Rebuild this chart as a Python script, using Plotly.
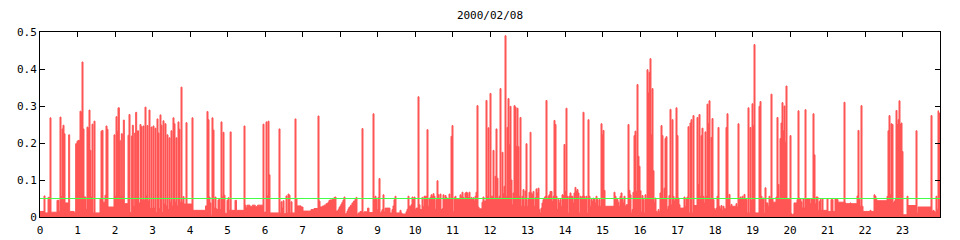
import plotly.graph_objects as go

title_text = "2000/02/08"
threshold = 0.05
day_end = 24

# step data: start hour of each step and its value
hours_00_06 = [0.000, 0.107, 0.133, 0.214, 0.267, 0.293, 0.453, 0.507, 0.533, 0.560, 0.587, 0.613, 0.640, 0.667,
               0.764, 0.791, 0.907, 0.951, 0.987, 1.013, 1.067, 1.093, 1.120, 1.147, 1.173, 1.227, 1.253, 1.280,
               1.307, 1.333, 1.360, 1.387, 1.413, 1.440, 1.467, 1.600, 1.627, 1.653, 1.680, 1.733, 1.760, 1.787,
               1.813, 1.973, 2.000, 2.027, 2.053, 2.080, 2.116, 2.142, 2.169, 2.196, 2.222, 2.249, 2.347, 2.373,
               2.400, 2.436, 2.462, 2.489, 2.524, 2.551, 2.578, 2.600, 2.627, 2.667, 2.693, 2.720, 2.746, 2.773,
               2.800, 2.827, 2.853, 2.880, 2.907, 2.933, 2.960, 2.987, 3.013, 3.040, 3.067, 3.093, 3.120, 3.147,
               3.173, 3.200, 3.226, 3.253, 3.280, 3.307, 3.333, 3.360, 3.387, 3.413, 3.440, 3.467, 3.493, 3.520,
               3.546, 3.573, 3.600, 3.626, 3.653, 3.680, 3.706, 3.733, 3.760, 3.787, 3.813, 3.840, 3.893, 3.920,
               4.053, 4.080, 4.413, 4.453, 4.480, 4.507, 4.533, 4.560, 4.586, 4.613, 4.640, 4.667, 4.693, 4.720,
               4.747, 4.773, 4.800, 4.826, 4.853, 4.880, 4.907, 4.933, 4.987, 5.013, 5.040, 5.070, 5.097, 5.200,
               5.240, 5.440, 5.467, 5.493, 5.520, 5.600, 5.660, 5.740, 5.800, 5.947, 5.973]
values_00_06 = [0.015, 0.057, 0.011, 0.053, 0.268, 0.013, 0.045, 0.015, 0.270, 0.055, 0.238, 0.248, 0.225, 0.038,
                0.222, 0.015, 0.013, 0.198, 0.205, 0.207, 0.286, 0.283, 0.419, 0.238, 0.054, 0.020, 0.243, 0.240,
                0.289, 0.180, 0.054, 0.251, 0.011, 0.259, 0.011, 0.049, 0.232, 0.234, 0.040, 0.059, 0.246, 0.237,
                0.027, 0.222, 0.056, 0.271, 0.232, 0.295, 0.207, 0.056, 0.225, 0.056, 0.262, 0.036, 0.221, 0.277,
                0.012, 0.219, 0.248, 0.030, 0.227, 0.283, 0.050, 0.233, 0.038, 0.250, 0.244, 0.045, 0.246, 0.045,
                0.297, 0.057, 0.247, 0.043, 0.289, 0.023, 0.243, 0.023, 0.246, 0.024, 0.240, 0.012, 0.265, 0.227,
                0.022, 0.276, 0.248, 0.012, 0.260, 0.035, 0.252, 0.030, 0.222, 0.020, 0.214, 0.040, 0.233, 0.030,
                0.268, 0.252, 0.040, 0.214, 0.030, 0.257, 0.237, 0.040, 0.351, 0.040, 0.055, 0.035, 0.255, 0.035,
                0.268, 0.018, 0.030, 0.285, 0.263, 0.054, 0.038, 0.005, 0.268, 0.235, 0.024, 0.054, 0.022, 0.020,
                0.046, 0.050, 0.020, 0.257, 0.054, 0.229, 0.059, 0.010, 0.045, 0.052, 0.018, 0.230, 0.018, 0.045,
                0.018, 0.246, 0.032, 0.024, 0.032, 0.028, 0.032, 0.028, 0.032, 0.251, 0.013]

hours_06_12 = [6.027, 6.053, 6.080, 6.107, 6.133, 6.373, 6.400, 6.427, 6.453, 6.480, 6.507, 6.560, 6.587, 6.613,
               6.640, 6.667, 6.693, 6.720, 6.800, 6.827, 6.853, 6.960, 7.013, 7.227, 7.307, 7.413, 7.440, 7.467,
               7.520, 7.573, 7.627, 7.680, 7.707, 7.733, 7.787, 7.840, 7.867, 7.893, 7.947, 7.973, 8.000, 8.027,
               8.053, 8.080, 8.107, 8.133, 8.160, 8.187, 8.213, 8.240, 8.280, 8.320, 8.360, 8.400, 8.427, 8.453,
               8.480, 8.533, 8.587, 8.613, 8.640, 8.733, 8.773, 8.880, 8.907, 8.933, 8.960, 8.987, 9.013, 9.040,
               9.067, 9.093, 9.120, 9.147, 9.173, 9.200, 9.333, 9.387, 9.413, 9.440, 9.467, 9.493, 9.600, 9.627,
               9.653, 9.760, 9.787, 9.813, 9.840, 9.893, 9.920, 9.947, 9.973, 10.000, 10.027, 10.080, 10.107,
               10.133, 10.187, 10.213, 10.240, 10.320, 10.347, 10.373, 10.400, 10.427, 10.453, 10.480, 10.507,
               10.533, 10.560, 10.587, 10.613, 10.640, 10.667, 10.693, 10.720, 10.747, 10.773, 10.800, 10.827,
               10.853, 10.880, 10.907, 10.933, 10.960, 10.987, 11.013, 11.040, 11.067, 11.093, 11.200, 11.227,
               11.253, 11.280, 11.307, 11.333, 11.360, 11.387, 11.413, 11.440, 11.467, 11.493, 11.520, 11.547,
               11.573, 11.600, 11.627, 11.653, 11.680, 11.707, 11.787, 11.813, 11.840, 11.893, 11.920, 11.947,
               11.973]
values_06_12 = [0.257, 0.057, 0.259, 0.114, 0.011, 0.238, 0.011, 0.041, 0.024, 0.044, 0.009, 0.057, 0.011, 0.062,
                0.059, 0.011, 0.041, 0.011, 0.265, 0.049, 0.030, 0.027, 0.016, 0.020, 0.023, 0.273, 0.043, 0.027,
                0.029, 0.032, 0.036, 0.040, 0.045, 0.046, 0.047, 0.053, 0.054, 0.016, 0.020, 0.026, 0.030, 0.035,
                0.040, 0.046, 0.054, 0.008, 0.010, 0.016, 0.022, 0.027, 0.032, 0.038, 0.043, 0.048, 0.053, 0.006,
                0.011, 0.015, 0.239, 0.011, 0.014, 0.024, 0.012, 0.279, 0.051, 0.056, 0.047, 0.020, 0.053, 0.104,
                0.011, 0.014, 0.020, 0.060, 0.014, 0.024, 0.011, 0.020, 0.030, 0.047, 0.056, 0.011, 0.018, 0.011,
                0.008, 0.014, 0.021, 0.056, 0.029, 0.033, 0.054, 0.047, 0.054, 0.020, 0.024, 0.325, 0.033,
                0.020, 0.053, 0.029, 0.056, 0.236, 0.029, 0.049, 0.053, 0.060, 0.056, 0.063, 0.056,
                0.020, 0.047, 0.098, 0.060, 0.047, 0.062, 0.020, 0.022, 0.060, 0.047, 0.058, 0.053,
                0.047, 0.050, 0.062, 0.049, 0.218, 0.247, 0.014, 0.052, 0.056, 0.047, 0.060, 0.056,
                0.067, 0.053, 0.047, 0.065, 0.067, 0.065, 0.053, 0.067, 0.047, 0.053, 0.047, 0.052,
                0.043, 0.056, 0.067, 0.301, 0.027, 0.022, 0.040, 0.054, 0.043, 0.315, 0.056, 0.241,
                0.047]

hours_12_18 = [12.000, 12.027, 12.080, 12.107, 12.133, 12.160, 12.187, 12.213, 12.240, 12.267, 12.293, 12.320,
               12.347, 12.373, 12.400, 12.427, 12.453, 12.480, 12.507, 12.533, 12.560, 12.587, 12.613, 12.640,
               12.667, 12.693, 12.720, 12.747, 12.773, 12.800, 12.827, 12.853, 12.880, 12.907, 12.933, 12.960,
               12.987, 13.013, 13.040, 13.070, 13.093, 13.120, 13.147, 13.173, 13.200, 13.227, 13.253, 13.280,
               13.307, 13.333, 13.360, 13.387, 13.413, 13.440, 13.467, 13.493, 13.520, 13.547, 13.573, 13.600,
               13.653, 13.680, 13.707, 13.733, 13.760, 13.787, 13.813, 13.840, 13.867, 13.893, 13.920, 13.947,
               13.973, 14.000, 14.027, 14.053, 14.080, 14.107, 14.133, 14.160, 14.213, 14.240, 14.267, 14.293,
               14.320, 14.347, 14.373, 14.400, 14.427, 14.453, 14.480, 14.507, 14.533, 14.560, 14.587, 14.613,
               14.640, 14.667, 14.693, 14.720, 14.747, 14.773, 14.800, 14.827, 14.853, 14.880, 14.907, 14.933,
               14.960, 14.987, 15.013, 15.040, 15.067, 15.307, 15.333, 15.360, 15.413, 15.440, 15.467, 15.493,
               15.520, 15.547, 15.573, 15.600, 15.627, 15.680, 15.707, 15.733, 15.760, 15.787, 15.813, 15.840,
               15.867, 15.893, 15.920, 15.947, 15.973, 16.000, 16.027, 16.053, 16.080, 16.107, 16.133, 16.160,
               16.187, 16.213, 16.240, 16.267, 16.293, 16.320, 16.347, 16.373, 16.400, 16.427, 16.453, 16.480,
               16.507, 16.533, 16.560, 16.587, 16.613, 16.640, 16.667, 16.693, 16.720, 16.747, 16.773, 16.800,
               16.827, 16.853, 16.880, 16.907, 16.933, 16.960, 16.987, 17.013, 17.040, 17.067, 17.173, 17.200,
               17.227, 17.253, 17.280, 17.307, 17.333, 17.360, 17.387, 17.413, 17.440, 17.520, 17.547, 17.573,
               17.600, 17.627, 17.653, 17.680, 17.707, 17.733, 17.760, 17.787, 17.813, 17.840, 17.867, 17.893,
               17.920, 17.947, 17.973]
values_12_18 = [0.334, 0.056, 0.180, 0.047, 0.110, 0.238, 0.105, 0.047, 0.056, 0.347, 0.047, 0.175,
                0.063, 0.083, 0.490, 0.056, 0.242, 0.320, 0.195, 0.299, 0.100, 0.033, 0.065, 0.301,
                0.297, 0.190, 0.294, 0.190, 0.056, 0.269, 0.029, 0.056, 0.074, 0.029, 0.070, 0.198,
                0.029, 0.047, 0.067, 0.229, 0.065, 0.060, 0.069, 0.029, 0.052, 0.076, 0.065, 0.078,
                0.020, 0.011, 0.024, 0.038, 0.047, 0.052, 0.056, 0.315, 0.047, 0.056, 0.060, 0.069,
                0.042, 0.056, 0.261, 0.250, 0.056, 0.020, 0.047, 0.038, 0.047, 0.029, 0.060, 0.058,
                0.196, 0.069, 0.294, 0.056, 0.011, 0.056, 0.065, 0.056, 0.038, 0.065, 0.080, 0.069,
                0.074, 0.065, 0.011, 0.056, 0.052, 0.056, 0.283, 0.056, 0.047, 0.056, 0.011, 0.263,
                0.056, 0.029, 0.047, 0.042, 0.051, 0.047, 0.038, 0.056, 0.047, 0.029, 0.047, 0.029,
                0.252, 0.222, 0.234, 0.072, 0.029, 0.067, 0.056, 0.047, 0.040, 0.029, 0.056, 0.065,
                0.047, 0.038, 0.056, 0.029, 0.033, 0.250, 0.072, 0.060, 0.011, 0.020, 0.067, 0.220,
                0.232, 0.069, 0.358, 0.164, 0.137, 0.071, 0.014, 0.058, 0.047, 0.011, 0.060, 0.050,
                0.398, 0.335, 0.391, 0.428, 0.222, 0.347, 0.125, 0.040, 0.051, 0.015, 0.013, 0.020,
                0.014, 0.065, 0.247, 0.220, 0.049, 0.078, 0.212, 0.217, 0.020, 0.029, 0.058, 0.291,
                0.033, 0.263, 0.056, 0.043, 0.051, 0.295, 0.220, 0.051, 0.033, 0.024, 0.054, 0.029,
                0.050, 0.054, 0.244, 0.011, 0.254, 0.263, 0.011, 0.274, 0.031, 0.269, 0.088, 0.277,
                0.056, 0.220, 0.240, 0.056, 0.038, 0.230, 0.056, 0.305, 0.252, 0.314, 0.047, 0.215,
                0.266, 0.047, 0.022]

hours_18_24 = [18.000, 18.027, 18.053, 18.080, 18.107, 18.133, 18.160, 18.187, 18.213, 18.240, 18.293, 18.320,
               18.347, 18.373, 18.400, 18.427, 18.453, 18.560, 18.587, 18.613, 18.640, 18.667, 18.693, 18.720,
               18.747, 18.773, 18.800, 18.827, 18.853, 18.880, 18.907, 18.933, 18.960, 18.987, 19.013, 19.040,
               19.067, 19.173, 19.200, 19.227, 19.253, 19.280, 19.307, 19.333, 19.360, 19.413, 19.440, 19.467,
               19.493, 19.520, 19.547, 19.627, 19.653, 19.680, 19.707, 19.733, 19.760, 19.787, 19.813, 19.840,
               19.867, 19.893, 19.920, 20.000, 20.027, 20.053, 20.080, 20.107, 20.187, 20.213, 20.240, 20.267,
               20.293, 20.320, 20.347, 20.373, 20.400, 20.427, 20.533, 20.560, 20.613, 20.640, 20.667, 20.693,
               20.747, 20.773, 20.800, 20.827, 20.853, 20.880, 20.987, 21.013, 21.093, 21.147, 21.200, 21.227,
               21.280, 21.440, 21.467, 21.493, 21.600, 21.627, 21.787, 21.813, 21.840, 21.867, 21.893, 21.920,
               21.947, 22.133, 22.160, 22.240, 22.267, 22.293, 22.320, 22.587, 22.613, 22.640, 22.667, 22.693,
               22.720, 22.747, 22.773, 22.800, 22.827, 22.853, 22.880, 22.907, 22.933, 22.960, 22.987, 23.013,
               23.120, 23.147, 23.360, 23.387, 23.413, 23.760, 23.787, 23.813, 23.840, 23.867, 23.893, 23.920,
               23.947, 23.960, 23.973]
values_18_24 = [0.018, 0.024, 0.056, 0.242, 0.029, 0.022, 0.031, 0.018, 0.029, 0.022, 0.242, 0.279,
                0.050, 0.061, 0.029, 0.034, 0.029, 0.036, 0.027, 0.252, 0.049, 0.054, 0.049, 0.056,
                0.049, 0.061, 0.050, 0.047, 0.011, 0.295, 0.011, 0.242, 0.045, 0.306, 0.247, 0.466,
                0.011, 0.299, 0.312, 0.056, 0.050, 0.051, 0.011, 0.079, 0.038, 0.029, 0.056, 0.049,
                0.332, 0.049, 0.040, 0.054, 0.269, 0.088, 0.047, 0.212, 0.254, 0.309, 0.233, 0.300,
                0.202, 0.354, 0.047, 0.220, 0.009, 0.006, 0.008, 0.038, 0.047, 0.287, 0.051, 0.049,
                0.041, 0.024, 0.050, 0.024, 0.290, 0.049, 0.036, 0.050, 0.279, 0.168, 0.036, 0.054,
                0.018, 0.042, 0.047, 0.018, 0.050, 0.018, 0.050, 0.015, 0.047, 0.015, 0.050, 0.047,
                0.040, 0.310, 0.038, 0.036, 0.038, 0.036, 0.057, 0.234, 0.047, 0.029, 0.301, 0.029,
                0.015, 0.018, 0.015, 0.060, 0.056, 0.047, 0.044, 0.056, 0.233, 0.274, 0.060, 0.252,
                0.250, 0.038, 0.042, 0.047, 0.288, 0.250, 0.263, 0.314, 0.250, 0.254, 0.177, 0.006,
                0.056, 0.031, 0.233, 0.011, 0.027, 0.274, 0.015, 0.018, 0.015, 0.013, 0.056, 0.020,
                0.287, 0.056, 0.281]

x_tick_values = list(range(0, 24))
y_tick_values = [0, 0.1, 0.2, 0.3, 0.4, 0.5]
y_tick_labels = ["0", "0.1", "0.2", "0.3", "0.4", "0.5"]

hours = hours_00_06 + hours_06_12 + hours_12_18 + hours_18_24
values = values_00_06 + values_06_12 + values_12_18 + values_18_24
step_x = hours + [day_end]
step_y = values + [values[-1]]

RED = "#ff5555"
GREEN = "#44ff44"
FONT = "DejaVu Sans Mono"

fig = go.Figure()
fig.add_trace(go.Scatter(
    x=step_x, y=step_y, mode="lines",
    line=dict(shape="hv", color=RED, width=1, simplify=False),
    fill="tozeroy", fillcolor=RED, hoverinfo="skip", showlegend=False,
))
fig.add_trace(go.Scatter(
    x=[0, day_end], y=[threshold, threshold], mode="lines",
    line=dict(color=GREEN, width=1), hoverinfo="skip", showlegend=False,
))

axis_common = dict(
    showgrid=False, zeroline=False, showline=True, linecolor="black", linewidth=1,
    ticks="inside", ticklen=5, tickwidth=1, tickcolor="black", mirror="allticks",
    tickfont=dict(family=FONT, size=11, color="black"), automargin=False,
)
fig.update_xaxes(range=[0, day_end], tickmode="array", tickvals=x_tick_values,
                 ticktext=[str(v) for v in x_tick_values], layer="below traces",
                 ticklabelstandoff=3, **axis_common)
fig.update_yaxes(range=[0, 0.5], tickmode="array", tickvals=y_tick_values,
                 ticktext=y_tick_labels, **axis_common)

fig.update_layout(
    width=960, height=240,
    margin=dict(l=40, r=20, t=32, b=23),
    paper_bgcolor="white", plot_bgcolor="white",
    font=dict(family=FONT, size=11, color="black"),
    title=dict(text=title_text, x=0.5, xref="paper", xanchor="center",
               y=1 - 15.5 / 240, yref="container", yanchor="middle",
               font=dict(family=FONT, size=11, color="black")),
    showlegend=False,
)

fig.write_html("out.html")
